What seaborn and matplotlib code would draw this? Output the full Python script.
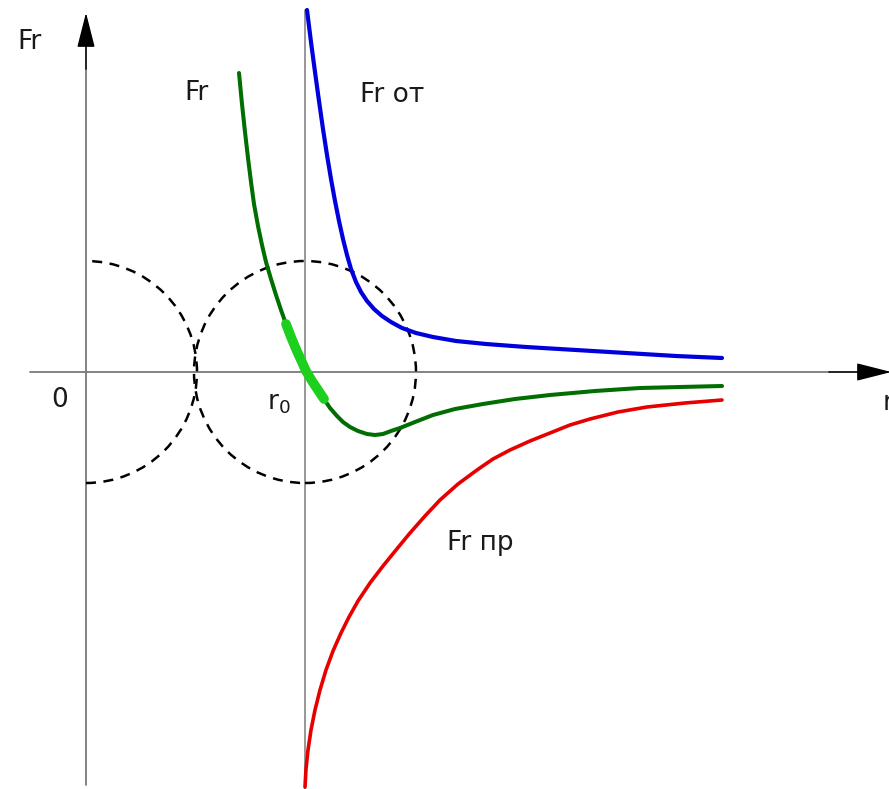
import numpy as np
import pandas as pd
import matplotlib
matplotlib.use("Agg")
import matplotlib.pyplot as plt
from matplotlib.patches import Circle, Arc
import seaborn as sns

# curves (x = distance r, y = force Fr)
blue_x = [2.21, 2.25, 2.29, 2.33, 2.37, 2.41, 2.45, 2.49, 2.53, 2.57, 2.61, 2.65, 2.70, 2.75,
          2.81, 2.88, 2.96, 3.05, 3.16, 3.30, 3.47, 3.70, 4.00, 4.40, 4.90, 5.40, 5.90, 6.36]
blue_y = [3.62, 3.30, 3.00, 2.71, 2.43, 2.17, 1.93, 1.71, 1.51, 1.33, 1.17, 1.03, 0.90, 0.80,
          0.71, 0.63, 0.56, 0.50, 0.44, 0.39, 0.35, 0.31, 0.28, 0.25, 0.22, 0.19, 0.16, 0.14]

red_x = [2.19, 2.20, 2.22, 2.25, 2.29, 2.34, 2.40, 2.47, 2.55, 2.63, 2.72, 2.84, 2.97, 3.10,
         3.24, 3.39, 3.54, 3.72, 3.91, 4.07, 4.24, 4.44, 4.64, 4.84, 5.04, 5.32, 5.61, 5.99, 6.36]
red_y = [-4.15, -3.97, -3.78, -3.58, -3.38, -3.18, -2.98, -2.79, -2.61, -2.45, -2.29, -2.11,
         -1.94, -1.78, -1.61, -1.44, -1.28, -1.12, -0.98, -0.87, -0.78, -0.69, -0.61, -0.53,
         -0.47, -0.40, -0.35, -0.31, -0.28]

green_x = [1.53, 1.56, 1.59, 1.62, 1.65, 1.68, 1.72, 1.76, 1.80, 1.85, 1.90, 1.95, 2.00, 2.05,
           2.10, 2.15, 2.20, 2.26, 2.32, 2.38, 2.44, 2.51, 2.57, 2.64, 2.72, 2.81, 2.89, 2.97,
           3.05, 3.14, 3.29, 3.47, 3.69, 3.97, 4.29, 4.64, 5.09, 5.54, 5.94, 6.36]
green_y = [2.99, 2.68, 2.40, 2.14, 1.90, 1.68, 1.46, 1.27, 1.10, 0.93, 0.77, 0.62, 0.48, 0.35,
           0.23, 0.12, 0.01, -0.09, -0.18, -0.27, -0.36, -0.44, -0.50, -0.55, -0.59, -0.62, -0.63,
           -0.62, -0.59, -0.56, -0.50, -0.43, -0.37, -0.32, -0.27, -0.23, -0.19, -0.16, -0.15, -0.14]

r0 = 2.19
circle_r = 1.11
stable_lo, stable_hi = 2.00, 2.40

sns.set_style("white")
plt.rcParams['font.family'] = ['DejaVu Sans']
plt.rcParams['mathtext.default'] = 'regular'

fig = plt.figure(figsize=(8.89, 7.89), dpi=100)
ax = fig.add_axes([0, 0, 1, 1])
ax.set_xlim(-0.86, 8.03)
ax.set_ylim(-4.17, 3.72)
ax.axis('off')

# axes lines
ax.plot([-0.56, 7.9], [0, 0], color='#7a7a7a', lw=1.3, zorder=1)
ax.plot([0, 0], [-4.13, 3.4], color='#7a7a7a', lw=1.3, zorder=1)
ax.plot([r0, r0], [-4.17, 3.62], color='#7a7a7a', lw=1.1, zorder=1)
arrow = dict(arrowstyle='-|>,head_length=1.1,head_width=0.28', color='black', lw=1, mutation_scale=20)
ax.annotate('', xy=(0, 3.62), xytext=(0, 3.0), arrowprops=arrow, annotation_clip=False)
ax.annotate('', xy=(8.08, 0), xytext=(7.4, 0), arrowprops=arrow, annotation_clip=False)

# dashed circles
ax.add_patch(Arc((0, 0), 2 * circle_r, 2 * circle_r, theta1=-90, theta2=90,
                 color='black', lw=1.8, ls=(0, (4, 3)), zorder=2))
ax.add_patch(Circle((r0, 0), circle_r, fill=False, color='black', lw=1.8,
                    ls=(0, (4, 3)), zorder=2))

blue = pd.DataFrame({'r': blue_x, 'F': blue_y})
red = pd.DataFrame({'r': red_x, 'F': red_y})
green = pd.DataFrame({'r': green_x, 'F': green_y})
stable = green[(green['r'] >= stable_lo) & (green['r'] <= stable_hi)]

line_kw = dict(sort=False, ax=ax, solid_capstyle='round', solid_joinstyle='round')
sns.lineplot(data=blue, x='r', y='F', color='#0000dd', lw=3, zorder=3, **line_kw)
sns.lineplot(data=red, x='r', y='F', color='#e60000', lw=2.6, zorder=3, **line_kw)
sns.lineplot(data=green, x='r', y='F', color='#006e00', lw=2.9, zorder=3, **line_kw)
sns.lineplot(data=stable, x='r', y='F', color='#1ed01e', lw=7, zorder=4, **line_kw)

fs = 19
ax.text(-0.56, 3.30, 'Fr', fontsize=fs, ha='center', va='center', color='#1a1a1a')
ax.text(1.10, 2.79, 'Fr', fontsize=fs, ha='center', va='center', color='#1a1a1a')
ax.text(3.06, 2.77, 'Fr от', fontsize=fs, ha='center', va='center', color='#1a1a1a')
ax.text(3.94, -1.71, 'Fr пр', fontsize=fs, ha='center', va='center', color='#1a1a1a')
ax.text(-0.26, -0.28, '0', fontsize=fs, ha='center', va='center', color='#1a1a1a')
ax.text(1.93, -0.31, 'r$_0$', fontsize=fs, ha='center', va='center', color='#1a1a1a')
ax.text(7.97, -0.31, 'r', fontsize=fs, ha='left', va='center', color='#1a1a1a')

fig.savefig('out.png', dpi=100)
